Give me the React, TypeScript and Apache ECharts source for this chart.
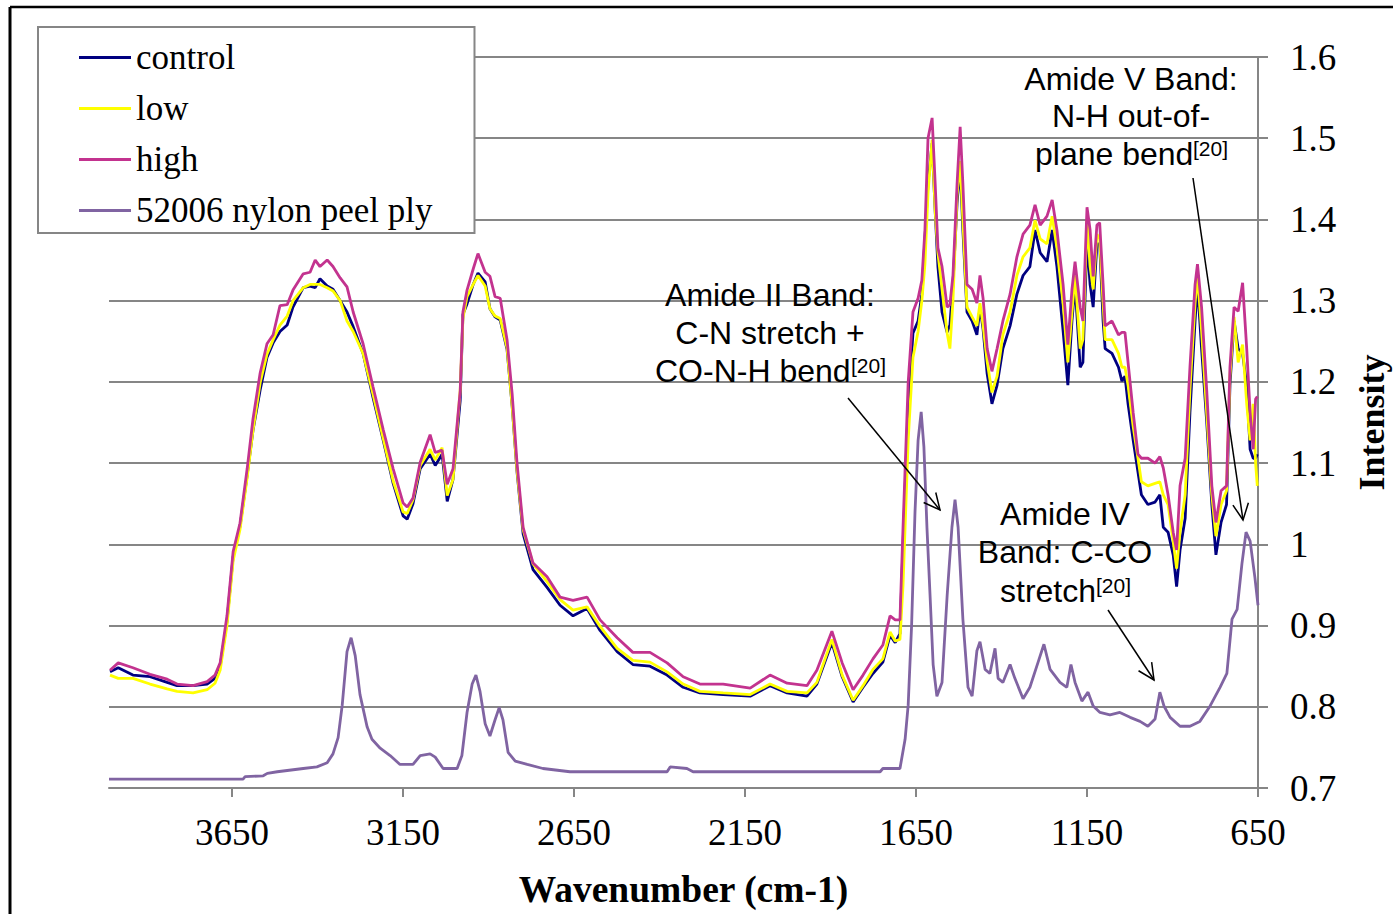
import React, { useEffect, useRef } from 'react';
import * as echarts from 'echarts';

// Shared wavenumber grid (cm-1) for control / low / high spectra
const wavenumbers = [
  4007, 3983, 3940, 3890, 3840, 3811, 3764, 3723, 3700, 3685,
  3665, 3647, 3627, 3606, 3589, 3568, 3548, 3530, 3510, 3489,
  3472, 3442, 3422, 3407, 3393, 3372, 3355, 3334, 3314, 3296,
  3267, 3238, 3208, 3179, 3150, 3138, 3121, 3100, 3071, 3056,
  3036, 3021, 3004, 2983, 2975, 2963, 2945, 2931, 2910, 2896,
  2881, 2866, 2846, 2831, 2817, 2799, 2770, 2729, 2691, 2653,
  2612, 2574, 2524, 2478, 2428, 2378, 2331, 2282, 2214, 2135,
  2077, 2027, 1969, 1940, 1896, 1866, 1834, 1805, 1776, 1747,
  1726, 1711, 1697, 1688, 1673, 1659, 1644, 1633, 1624, 1615,
  1603, 1594, 1586, 1574, 1559, 1551, 1542, 1530, 1521, 1513,
  1501, 1486, 1472, 1463, 1454, 1442, 1428, 1413, 1396, 1375,
  1355, 1337, 1317, 1302, 1287, 1267, 1252, 1238, 1220, 1206,
  1194, 1185, 1170, 1162, 1150, 1141, 1132, 1121, 1113, 1103,
  1097, 1077, 1058, 1048, 1039, 1030, 1015, 1001, 991, 972,
  951, 937, 927, 913, 898, 888, 878, 863, 849, 834,
  827, 815, 800, 785, 773, 758, 742, 732, 720, 708,
  695, 683, 673, 664, 657, 652,
];

const controlValues = [
  0.843, 0.848, 0.839, 0.837, 0.830, 0.826, 0.826, 0.828, 0.835, 0.850,
  0.905, 0.985, 1.022, 1.085, 1.140, 1.190, 1.230, 1.248, 1.262, 1.270,
  1.292, 1.316, 1.318, 1.316, 1.327, 1.318, 1.314, 1.300, 1.286, 1.268,
  1.235, 1.181, 1.128, 1.075, 1.035, 1.031, 1.050, 1.093, 1.111, 1.097,
  1.111, 1.053, 1.080, 1.177, 1.283, 1.296, 1.320, 1.334, 1.323, 1.290,
  1.280, 1.276, 1.240, 1.170, 1.090, 1.013, 0.969, 0.947, 0.925, 0.912,
  0.921, 0.894, 0.868, 0.852, 0.850, 0.839, 0.824, 0.817, 0.815, 0.813,
  0.826, 0.817, 0.813, 0.828, 0.879, 0.837, 0.806, 0.824, 0.841, 0.855,
  0.888, 0.879, 0.890, 1.000, 1.170, 1.260, 1.275, 1.308, 1.376, 1.444,
  1.494, 1.410, 1.342, 1.286, 1.261, 1.270, 1.320, 1.420, 1.467, 1.387,
  1.286, 1.275, 1.258, 1.292, 1.265, 1.210, 1.173, 1.196, 1.241, 1.269,
  1.308, 1.331, 1.342, 1.387, 1.359, 1.348, 1.387, 1.342, 1.263, 1.196,
  1.275, 1.320, 1.218, 1.224, 1.376, 1.320, 1.292, 1.370, 1.370, 1.275,
  1.241, 1.235, 1.218, 1.201, 1.207, 1.173, 1.128, 1.089, 1.061, 1.049,
  1.052, 1.061, 1.021, 1.015, 0.987, 0.948, 0.993, 1.032, 1.162, 1.275,
  1.320, 1.241, 1.151, 1.049, 0.987, 1.027, 1.049, 1.196, 1.275, 1.241,
  1.235, 1.196, 1.117, 1.106, 1.106, 1.111,
];

const lowValues = [
  0.839, 0.835, 0.835, 0.828, 0.822, 0.819, 0.817, 0.821, 0.829, 0.845,
  0.900, 0.980, 1.018, 1.082, 1.140, 1.199, 1.234, 1.252, 1.270, 1.281,
  1.300, 1.316, 1.320, 1.320, 1.320, 1.316, 1.312, 1.300, 1.275, 1.262,
  1.235, 1.185, 1.130, 1.078, 1.040, 1.038, 1.055, 1.097, 1.117, 1.104,
  1.119, 1.060, 1.080, 1.190, 1.278, 1.305, 1.320, 1.331, 1.318, 1.290,
  1.281, 1.278, 1.242, 1.170, 1.092, 1.018, 0.976, 0.954, 0.932, 0.919,
  0.923, 0.899, 0.872, 0.857, 0.855, 0.843, 0.828, 0.819, 0.817, 0.815,
  0.828, 0.819, 0.817, 0.830, 0.883, 0.839, 0.808, 0.826, 0.846, 0.859,
  0.892, 0.881, 0.883, 0.950, 1.128, 1.230, 1.262, 1.300, 1.345, 1.432,
  1.498, 1.410, 1.359, 1.314, 1.260, 1.241, 1.300, 1.430, 1.472, 1.399,
  1.292, 1.280, 1.269, 1.297, 1.270, 1.225, 1.187, 1.207, 1.258, 1.286,
  1.331, 1.354, 1.365, 1.399, 1.376, 1.370, 1.404, 1.365, 1.297, 1.224,
  1.286, 1.331, 1.241, 1.252, 1.399, 1.342, 1.314, 1.382, 1.376, 1.297,
  1.252, 1.252, 1.235, 1.218, 1.218, 1.196, 1.145, 1.106, 1.077, 1.072,
  1.075, 1.077, 1.061, 1.049, 1.004, 0.970, 1.015, 1.061, 1.190, 1.297,
  1.331, 1.263, 1.162, 1.061, 1.010, 1.049, 1.066, 1.207, 1.280, 1.224,
  1.246, 1.173, 1.128, 1.173, 1.100, 1.072,
];

const highValues = [
  0.845, 0.854, 0.848, 0.840, 0.834, 0.828, 0.826, 0.831, 0.839, 0.854,
  0.912, 0.991, 1.026, 1.093, 1.154, 1.211, 1.247, 1.258, 1.294, 1.295,
  1.313, 1.333, 1.335, 1.350, 1.342, 1.350, 1.342, 1.328, 1.317, 1.286,
  1.247, 1.194, 1.141, 1.093, 1.051, 1.046, 1.057, 1.101, 1.135, 1.113,
  1.116, 1.074, 1.093, 1.189, 1.286, 1.313, 1.339, 1.358, 1.335, 1.330,
  1.305, 1.303, 1.252, 1.185, 1.101, 1.021, 0.977, 0.960, 0.935, 0.931,
  0.935, 0.907, 0.885, 0.867, 0.867, 0.854, 0.837, 0.828, 0.828, 0.823,
  0.839, 0.829, 0.826, 0.845, 0.893, 0.854, 0.821, 0.839, 0.859, 0.876,
  0.912, 0.907, 0.907, 1.021, 1.199, 1.286, 1.303, 1.325, 1.387, 1.500,
  1.525, 1.444, 1.365, 1.342, 1.292, 1.295, 1.331, 1.444, 1.514, 1.444,
  1.320, 1.314, 1.297, 1.331, 1.303, 1.241, 1.213, 1.241, 1.275, 1.308,
  1.354, 1.382, 1.393, 1.418, 1.393, 1.404, 1.424, 1.387, 1.320, 1.246,
  1.314, 1.348, 1.292, 1.275, 1.415, 1.387, 1.330, 1.393, 1.396, 1.320,
  1.269, 1.275, 1.258, 1.261, 1.261, 1.224, 1.162, 1.111, 1.106, 1.106,
  1.100, 1.108, 1.094, 1.061, 1.015, 0.993, 1.072, 1.106, 1.218, 1.320,
  1.345, 1.292, 1.190, 1.072, 1.027, 1.066, 1.072, 1.218, 1.292, 1.287,
  1.322, 1.241, 1.162, 1.117, 1.179, 1.182,
];

// 52006 nylon peel ply reference spectrum
const nylonWavenumbers = [
  4010, 3618, 3612, 3559, 3547, 3518, 3442, 3402, 3372, 3355,
  3340, 3328, 3314, 3302, 3290, 3276, 3255, 3241, 3217, 3188,
  3159, 3121, 3100, 3071, 3056, 3033, 2992, 2978, 2963, 2948,
  2937, 2925, 2910, 2896, 2881, 2869, 2858, 2843, 2822, 2787,
  2741, 2662, 2378, 2369, 2320, 2302, 1755, 1747, 1697, 1682,
  1673, 1663, 1653, 1644, 1635, 1627, 1618, 1609, 1600, 1589,
  1574, 1559, 1545, 1536, 1527, 1513, 1498, 1486, 1472, 1463,
  1448, 1434, 1419, 1410, 1396, 1375, 1361, 1337, 1317, 1293,
  1276, 1258, 1229, 1209, 1197, 1185, 1165, 1147, 1132, 1112,
  1083, 1054, 1024, 995, 972, 951, 937, 925, 907, 878,
  849, 820, 790, 761, 741, 726, 711, 697, 685, 673,
  659, 650,
];

const nylonValues = [
  0.711, 0.711, 0.714, 0.715, 0.718, 0.720, 0.724, 0.726, 0.731, 0.742,
  0.762, 0.802, 0.868, 0.885, 0.863, 0.815, 0.775, 0.760, 0.749, 0.740,
  0.729, 0.729, 0.740, 0.742, 0.738, 0.724, 0.724, 0.740, 0.793, 0.828,
  0.839, 0.819, 0.779, 0.764, 0.784, 0.799, 0.784, 0.744, 0.733, 0.729,
  0.724, 0.720, 0.720, 0.726, 0.724, 0.720, 0.720, 0.724, 0.724, 0.760,
  0.802, 0.900, 1.040, 1.128, 1.163, 1.120, 1.020, 0.937, 0.852, 0.813,
  0.830, 0.937, 1.021, 1.055, 1.021, 0.908, 0.824, 0.813, 0.869, 0.880,
  0.846, 0.841, 0.872, 0.835, 0.830, 0.852, 0.835, 0.810, 0.824, 0.855,
  0.877, 0.846, 0.830, 0.824, 0.852, 0.830, 0.807, 0.818, 0.801, 0.793,
  0.790, 0.793, 0.787, 0.782, 0.776, 0.785, 0.818, 0.801, 0.787, 0.776,
  0.776, 0.782, 0.801, 0.824, 0.841, 0.908, 0.920, 0.976, 1.015, 1.004,
  0.959, 0.925,
];

const xTickValues = [650, 1150, 1650, 2150, 2650, 3150, 3650];
const seriesNames = ['control', 'low', 'high', '52006 nylon peel ply'];
const seriesColors = ['#000080', '#FFFF00', '#C3338F', '#8064A2'];

const SERIF = "'Liberation Serif', 'Times New Roman', serif";
const SANS = "'Liberation Sans', Arial, sans-serif";

function pairs(xs: number[], ys: number[]) {
  return xs.map((x, i) => [x, ys[i]]);
}

function arrow(x1: number, y1: number, x2: number, y2: number) {
  const a = Math.atan2(y2 - y1, x2 - x1);
  const L = 18;
  const s = 0.45;
  return [
    { type: 'line', z: 100, shape: { x1, y1, x2, y2 }, style: { stroke: '#000', lineWidth: 1.5 } },
    {
      type: 'polyline', z: 100,
      shape: {
        points: [
          [x2 - L * Math.cos(a - s), y2 - L * Math.sin(a - s)],
          [x2, y2],
          [x2 - L * Math.cos(a + s), y2 - L * Math.sin(a + s)],
        ],
      },
      style: { stroke: '#000', lineWidth: 1.5, fill: null },
    },
  ];
}

function label(text: string, x: number, y: number, align: string, size = 32) {
  return {
    type: 'text', z: 100, x, y,
    style: { text, fontSize: size, fontFamily: SANS, fill: '#000', align, verticalAlign: 'middle' },
  };
}

export default function App() {
  const ref = useRef<HTMLDivElement>(null);
  useEffect(() => {
    if (!ref.current) return;
    const chart = echarts.init(ref.current, null, { renderer: 'svg', width: 1393, height: 914 });
    const dataSets = [
      pairs(wavenumbers, controlValues),
      pairs(wavenumbers, lowValues),
      pairs(wavenumbers, highValues),
      pairs(nylonWavenumbers, nylonValues),
    ];
    chart.setOption({
      animation: false,
      backgroundColor: '#fff',
      grid: { left: 109, right: 135, top: 57, bottom: 126, containLabel: false, outerBoundsMode: 'none' },
      legend: {
        orient: 'vertical', left: 38, top: 27,
        data: seriesNames,
        icon: 'rect', itemWidth: 52, itemHeight: 3, itemGap: 16,
        padding: [13, 42, 5, 41],
        backgroundColor: '#fff', borderColor: '#868686', borderWidth: 2,
        textStyle: { fontFamily: SERIF, fontSize: 35, color: '#000' },
        z: 20,
      },
      xAxis: {
        type: 'value', min: 650, max: 4010, inverse: true,
        name: 'Wavenumber (cm-1)', nameLocation: 'middle', nameGap: 82,
        nameTextStyle: { fontFamily: SERIF, fontSize: 37.5, fontWeight: 'bold', color: '#000' },
        axisLine: { show: true, lineStyle: { color: '#868686', width: 2 } },
        axisTick: { show: true, length: 9, customValues: xTickValues, lineStyle: { color: '#868686', width: 2 } },
        axisLabel: {
          customValues: xTickValues, fontFamily: SERIF, fontSize: 37, color: '#000', margin: 26,
          formatter: (v: number) => String(Math.round(v)),
        },
        splitLine: { show: false },
      },
      yAxis: {
        type: 'value', position: 'right', min: 0.7, max: 1.6, interval: 0.1,
        name: 'Intensity', nameLocation: 'middle', nameGap: 96, nameRotate: 90,
        nameTextStyle: { fontFamily: SERIF, fontSize: 36, fontWeight: 'bold', color: '#000' },
        axisLine: { show: true, lineStyle: { color: '#868686', width: 2 } },
        axisTick: { show: true, length: 10, lineStyle: { color: '#868686', width: 2 } },
        axisLabel: {
          fontFamily: SERIF, fontSize: 37, color: '#000', margin: 32,
          formatter: (v: number) => String(Math.round(v * 10) / 10),
        },
        splitLine: { show: true, lineStyle: { color: '#868686', width: 2 } },
      },
      series: seriesNames.map((name, i) => ({
        name, type: 'line', data: dataSets[i], showSymbol: false, symbol: 'none',
        color: seriesColors[i],
        lineStyle: { color: seriesColors[i], width: 2.8 },
        z: 2 + i,
      })),
      graphic: [
        { type: 'line', z: 100, shape: { x1: 10, y1: 7, x2: 10, y2: 914 }, style: { stroke: '#000', lineWidth: 3 } },
        { type: 'line', z: 100, shape: { x1: 10, y1: 7, x2: 1393, y2: 7 }, style: { stroke: '#000', lineWidth: 2.5 } },
        label('Amide II Band:', 770, 295, 'center'),
        label('C-N stretch +', 770, 333, 'center'),
        label('CO-N-H bend', 655, 371, 'left'),
        label('[20]', 851, 365, 'left', 21),
        label('Amide IV', 1065, 514, 'center'),
        label('Band: C-CO', 1065, 552, 'center'),
        label('stretch', 1000, 591, 'left'),
        label('[20]', 1096, 585, 'left', 21),
        label('Amide V Band:', 1131, 79, 'center'),
        label('N-H out-of-', 1131, 116, 'center'),
        label('plane bend', 1035, 154, 'left'),
        label('[20]', 1193, 148, 'left', 21),
        ...arrow(848, 398, 940, 510),
        ...arrow(1108, 610, 1154, 680),
        ...arrow(1193, 178, 1243, 520),
      ],
    });
    return () => chart.dispose();
  }, []);
  return (
    <div
      ref={ref}
      style={{ position: 'absolute', left: 0, top: 0, width: 1393, height: 914, background: '#fff', overflow: 'hidden' }}
    />
  );
}
